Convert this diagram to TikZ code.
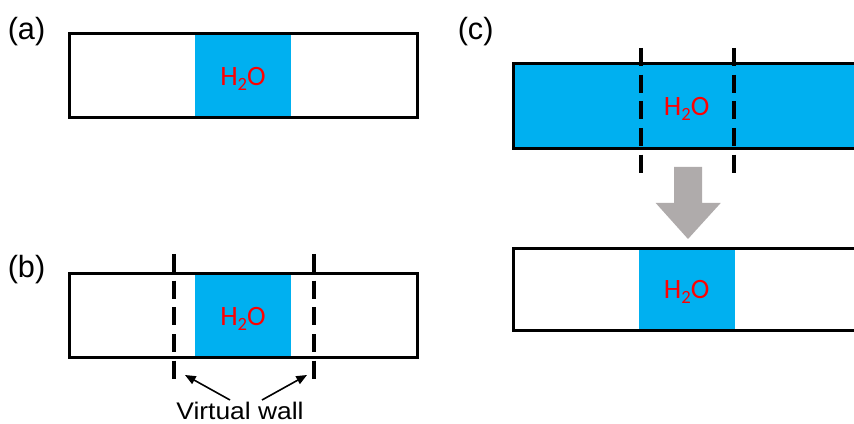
\documentclass[tikz,border=0pt]{standalone}
\usepackage{fontspec}
\setmainfont{Liberation Sans}
\newfontfamily\calib{Carlito}
\usetikzlibrary{arrows.meta}
\definecolor{water}{RGB}{0,176,240}
\definecolor{arrowgray}{RGB}{175,171,171}
\newcommand{\water}{H\raisebox{-3.8pt}{\fontsize{14}{14}\selectfont 2}O}
\begin{document}
\begin{tikzpicture}[x=0.75pt,y=-0.75pt,
  tube/.style={draw=black,line width=2.25pt},
  wall/.style={draw=black,line width=3pt,dash pattern=on 13.5pt off 6.5pt},
  h2o/.style={text=red,font=\calib\fontsize{21}{24}\selectfont,inner sep=0pt,anchor=base},
  lab/.style={font=\fontsize{23}{26}\selectfont,inner sep=0pt,anchor=base west},
  pointer/.style={draw=black,line width=1.2pt,-{Triangle[length=8pt,width=6.5pt]}}]
\clip (0,0) rectangle (854,424);
% ---------- (a)
\node[lab] (la) at (7.5,39.3) {(a)};
\fill[water] (195,33.8) rectangle (291,117.8);
\draw[tube] (69.5,33.8) rectangle (417,117.8);
\node[h2o] (wa) at (243,85.3) {\water};
% ---------- (b)
\node[lab] (lb) at (7.5,277.7) {(b)};
\fill[water] (195,273.8) rectangle (291,357.8);
\draw[tube] (69.5,273.8) rectangle (417,357.8);
\node[h2o] (wb) at (243,325.3) {\water};
\coordinate (wl1) at (173.5,254);
\coordinate (wl2) at (173.5,382);
\coordinate (wr1) at (313.5,254);
\coordinate (wr2) at (313.5,382);
\draw[wall] (wl1) -- (wl2);
\draw[wall] (wr1) -- (wr2);
\node[inner sep=0pt,anchor=base,font=\fontsize{18}{21}\selectfont] (vw) at (240,419) {\scalebox{1.1}[1]{Virtual wall}};
\coordinate (va) at (230,400);
\coordinate (vb) at (262,400);
\coordinate (ta) at (185,375);
\coordinate (tb) at (307,375);
\draw[pointer] (va) -- (ta);
\draw[pointer] (vb) -- (tb);
% ---------- (c)
\node[lab] (lc) at (457.5,39.3) {(c)};
\filldraw[tube,fill=water] (513.8,63.8) rectangle (870,148.5);
\node[h2o] (wc) at (686.7,115.3) {\water};
\coordinate (cl1) at (640.7,48);
\coordinate (cl2) at (640.7,175);
\coordinate (cr1) at (734,48);
\coordinate (cr2) at (734,175);
\draw[wall] (cl1) -- (cl2);
\draw[wall] (cr1) -- (cr2);
\fill[arrowgray] (674,167) -- (702,167) -- (702,203) -- (720.7,203) -- (688,239) -- (655.7,203) -- (674,203) -- cycle;
\fill[water] (639,248.2) rectangle (735,330.8);
\draw[tube] (513.8,248.2) rectangle (870,330.8);
\node[h2o] (wd) at (686.7,298.7) {\water};
\end{tikzpicture}
\end{document}
